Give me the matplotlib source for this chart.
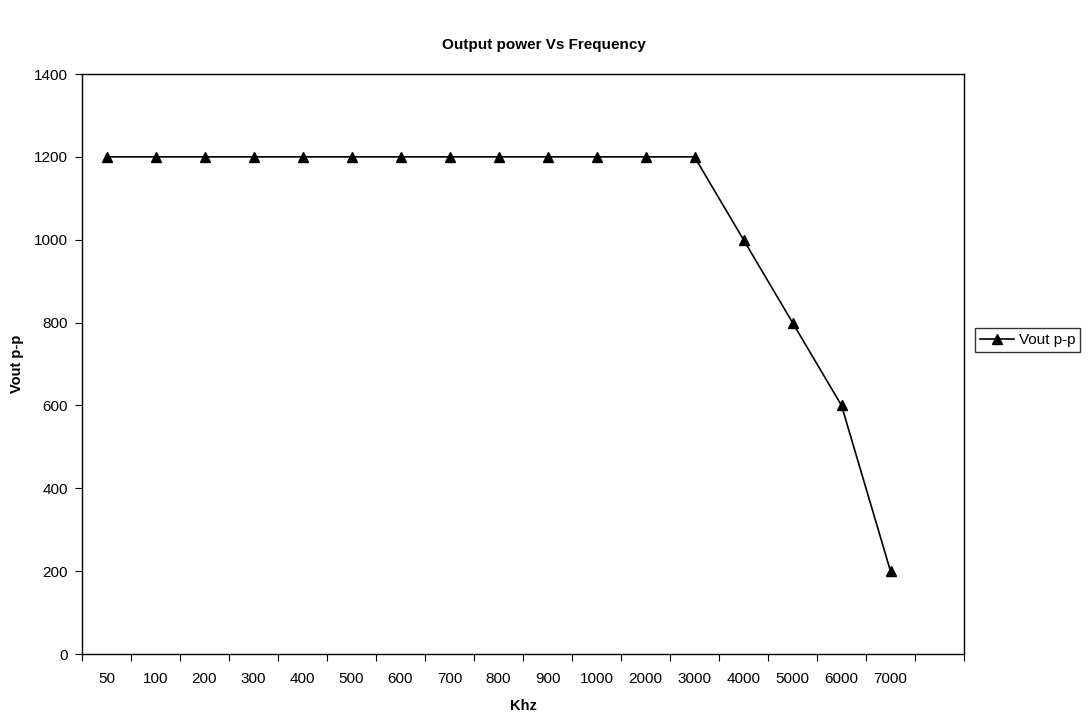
import matplotlib
matplotlib.use("Agg")
import matplotlib.pyplot as plt
import numpy as np

plt.rcParams['font.family'] = ['Liberation Sans', 'DejaVu Sans']

freq_labels = ['50', '100', '200', '300', '400', '500', '600', '700', '800',
               '900', '1000', '2000', '3000', '4000', '5000', '6000', '7000']
vout = [1200, 1200, 1200, 1200, 1200, 1200, 1200, 1200, 1200,
        1200, 1200, 1200, 1200, 1000, 800, 600, 200]
n_slots = 18  # one empty category at the end of the axis

fig = plt.figure(figsize=(10.88, 7.15), dpi=100)
ax = fig.add_axes([82 / 1088, 61 / 715, (964 - 82) / 1088, (654 - 74) / 715])

x = np.arange(len(vout))
ax.plot(x, vout, color='black', linewidth=1.2, marker='^', markersize=7,
        label='Vout p-p')

ax.set_xlim(-0.5, n_slots - 0.5)
ax.set_ylim(0, 1400)
ax.set_yticks(np.arange(0, 1401, 200))

# tick marks between categories, labels at the categories
ax.set_xticks(np.arange(-0.5, n_slots, 1.0))
ax.set_xticklabels([])
ax.set_xticks(x, minor=True)
ax.set_xticklabels(freq_labels, minor=True)
ax.tick_params(axis='x', which='minor', length=0, pad=13, labelsize=11)
ax.tick_params(axis='x', which='major', length=5, direction='out')
ax.tick_params(axis='y', length=5, direction='out', labelsize=11, pad=5)

for s in ax.spines.values():
    s.set_linewidth(1.0)

ax.set_xlabel('Khz', fontweight='bold', fontsize=10.5, labelpad=9)
ax.set_ylabel('Vout p-p', fontweight='bold', fontsize=10.5, labelpad=7)
fig.suptitle('Output power Vs Frequency', fontweight='bold', fontsize=11,
             y=1 - 45 / 715, va='center')

leg = fig.legend(loc='center left', bbox_to_anchor=(975 / 1088, 1 - 340 / 715),
                 fancybox=False, edgecolor='black', fontsize=11,
                 handlelength=2.2, borderpad=0.35, handletextpad=0.3,
                 borderaxespad=0)
leg.get_frame().set_linewidth(1.0)

fig.savefig('out.png', dpi=100)
